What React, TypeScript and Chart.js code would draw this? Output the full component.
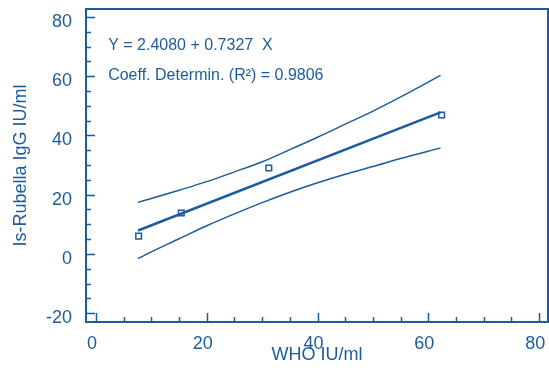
import React, { useEffect, useRef } from 'react';
import { Chart, registerables } from 'chart.js';

Chart.register(...registerables);

const BLUE = '#1d5c9b';
const FONT = '"Liberation Sans", Arial, Helvetica, sans-serif';

const X_TICKS = [0, 20, 40, 60, 80];
const Y_TICKS = [-20, 0, 20, 40, 60, 80];

const POINT_X = [7.7, 15.4, 31.2, 62.4];
const POINT_Y = [6.0, 13.8, 29.0, 46.9];

const REG_X = [7.6, 62.2];
const REG_Y = [7.9, 47.8];

const BAND_X = [7.6, 10, 15, 20, 25, 30, 35, 40, 45, 50, 55, 62.2];
const UPPER = [17.4, 18.7, 21.5, 24.4, 27.7, 31.1, 35.2, 39.4, 43.8, 48.2, 53.0, 60.3];
const LOWER = [-1.6, 0.7, 5.1, 9.5, 13.5, 17.3, 20.8, 24.0, 26.9, 29.5, 32.2, 35.8];

const ANNOT_TEXT = ['Y = 2.4080 + 0.7327  X', 'Coeff. Determin. (R²) = 0.9806'];
const ANNOT_X = [2.2, 2.2];
const ANNOT_Y = [70.3, 60.1];

const pts = (xs: number[], ys: number[]) => xs.map((x, i) => ({ x, y: ys[i] }));

const zeroPad = (s: any) => {
  s.paddingTop = 0;
  s.paddingBottom = 0;
  s.paddingLeft = 0;
  s.paddingRight = 0;
};

const framePlugin = {
  id: 'framePlugin',
  afterDraw(chart: any) {
    const { ctx, chartArea } = chart;
    const xs = chart.scales.x;
    const ys = chart.scales.y;
    ctx.save();
    ctx.strokeStyle = BLUE;
    ctx.lineWidth = 1.5;
    ctx.beginPath();
    for (let v = 0; v <= 80; v += 5) {
      const px = Math.round(xs.getPixelForValue(v)) + 0.5;
      const len = v % 20 === 0 ? 9 : 5;
      ctx.moveTo(px, chartArea.bottom);
      ctx.lineTo(px, chartArea.bottom - len);
    }
    for (let v = -20; v <= 80; v += 5) {
      const py = Math.round(ys.getPixelForValue(v)) + 0.5;
      const len = v % 20 === 0 ? 9 : 5;
      ctx.moveTo(chartArea.left, py);
      ctx.lineTo(chartArea.left + len, py);
    }
    ctx.stroke();
    ctx.lineWidth = 2;
    ctx.strokeRect(chartArea.left, chartArea.top, chartArea.right - chartArea.left, chartArea.bottom - chartArea.top);
    ctx.fillStyle = BLUE;
    ctx.font = `16px ${FONT}`;
    ctx.textAlign = 'left';
    ctx.textBaseline = 'middle';
    ANNOT_TEXT.forEach((t, i) => {
      ctx.fillText(t, xs.getPixelForValue(ANNOT_X[i]), ys.getPixelForValue(ANNOT_Y[i]));
    });
    ctx.restore();
  },
};

export default function App() {
  const ref = useRef<HTMLCanvasElement | null>(null);
  useEffect(() => {
    if (!ref.current) return;
    const chart = new Chart(ref.current, {
      type: 'scatter',
      data: {
        datasets: [
          {
            data: pts(BAND_X, UPPER),
            showLine: true,
            borderColor: BLUE,
            borderWidth: 1.5,
            pointRadius: 0,
            cubicInterpolationMode: 'monotone',
          },
          {
            data: pts(BAND_X, LOWER),
            showLine: true,
            borderColor: BLUE,
            borderWidth: 1.5,
            pointRadius: 0,
            cubicInterpolationMode: 'monotone',
          },
          {
            data: pts(REG_X, REG_Y),
            showLine: true,
            borderColor: BLUE,
            borderWidth: 2.5,
            pointRadius: 0,
          },
          {
            data: pts(POINT_X, POINT_Y),
            showLine: false,
            pointStyle: 'rect',
            pointRadius: 4,
            pointBorderWidth: 1.5,
            pointBorderColor: BLUE,
            pointBackgroundColor: '#ffffff',
          },
        ],
      } as any,
      options: {
        animation: false,
        responsive: true,
        maintainAspectRatio: false,
        layout: { autoPadding: false, padding: { top: 9, right: 1, left: 0, bottom: 0 } },
        plugins: { legend: { display: false }, tooltip: { enabled: false } },
        scales: {
          x: {
            type: 'linear',
            min: -1.8,
            max: 81.6,
            border: { display: false },
            grid: { display: false, drawTicks: false },
            afterBuildTicks: (s: any) => {
              s.ticks = X_TICKS.map((v) => ({ value: v }));
            },
            afterFit: (s: any) => {
              s.height = 46;
              zeroPad(s);
            },
            ticks: {
              color: BLUE,
              font: { size: 18, family: FONT },
              padding: 11,
              labelOffset: -4,
              maxRotation: 0,
            },
            title: {
              display: true,
              text: 'WHO IU/ml',
              color: BLUE,
              font: { size: 18, family: FONT },
              padding: { top: 2, bottom: 2 },
            },
          },
          y: {
            type: 'linear',
            min: -23,
            max: 82.7,
            border: { display: false },
            grid: { display: false, drawTicks: false },
            afterBuildTicks: (s: any) => {
              s.ticks = Y_TICKS.map((v) => ({ value: v }));
            },
            afterFit: (s: any) => {
              s.width = 86;
              zeroPad(s);
            },
            ticks: {
              color: BLUE,
              font: { size: 18, family: FONT },
              padding: 14,
              labelOffset: 5,
            },
            title: {
              display: true,
              text: 'Is-Rubella IgG IU/ml',
              color: BLUE,
              font: { size: 18, family: FONT },
              padding: { top: 10, bottom: 10 },
            },
          },
        },
      } as any,
      plugins: [framePlugin],
    });
    return () => chart.destroy();
  }, []);
  return (
    <div style={{ position: 'fixed', left: 0, top: 0, width: 549, height: 368, background: '#fff' }}>
      <canvas ref={ref} />
    </div>
  );
}
